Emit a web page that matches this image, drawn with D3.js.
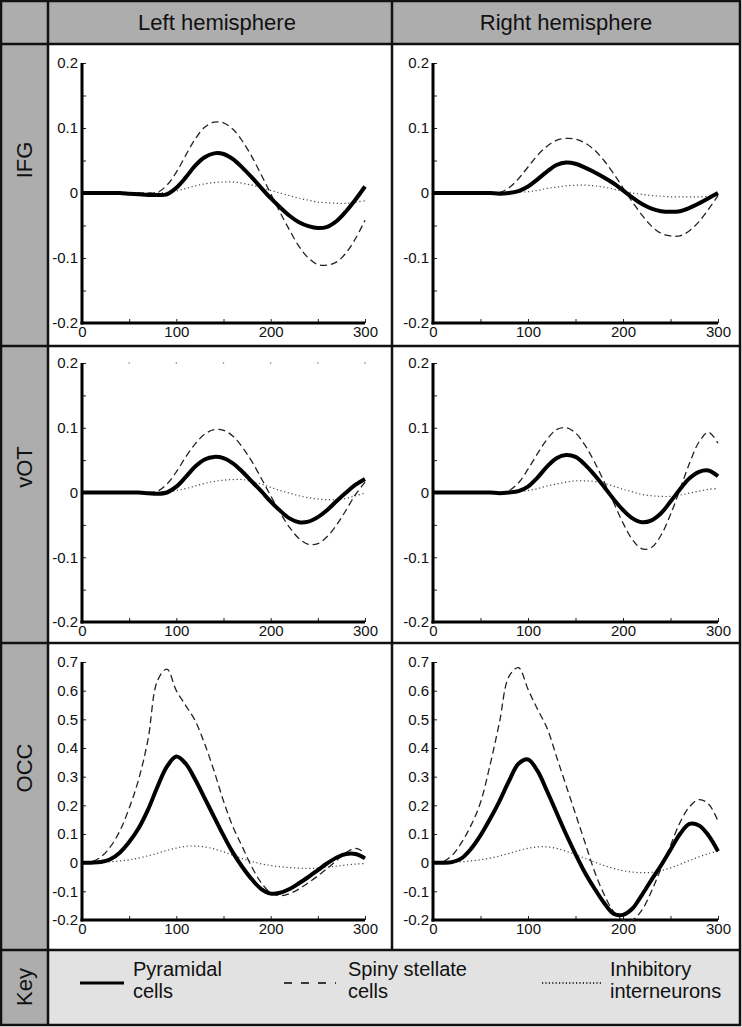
<!DOCTYPE html>
<html lang="en">
<head>
<meta charset="UTF-8">
<title>Neuronal populations</title>
<script src="https://d3js.org/d3.v7.min.js"></script>
<style>
  body { margin: 0; background: #fff; }
  text { font-family: "Liberation Sans", Arial, sans-serif; fill: #111; }
</style>
</head>
<body>
<svg id="chart" width="742" height="1027"></svg>
<script>
// time samples (ms)
const time = [0, 10, 20, 30, 40, 50, 60, 70, 80, 90, 100, 110, 120, 130, 140, 150,
  160, 170, 180, 190, 200, 210, 220, 230, 240, 250, 260, 270, 280, 290, 300];

// IFG, left hemisphere
const ifgLeftPyr = [0, 0, 0, 0, 0, -0.001, -0.002, -0.003, -0.003, -0.002, 0.008, 0.024, 0.042, 0.055, 0.061, 0.060,
  0.052, 0.039, 0.024, 0.008, -0.008, -0.022, -0.035, -0.045, -0.051, -0.054, -0.052, -0.043, -0.028, -0.010, 0.010];
const ifgLeftSpiny = [0, 0, 0, 0, 0, 0, 0, 0, 0.001, 0.012, 0.032, 0.058, 0.083, 0.101, 0.109, 0.108,
  0.098, 0.080, 0.056, 0.028, -0.001, -0.030, -0.057, -0.082, -0.100, -0.110, -0.111, -0.106, -0.092, -0.070, -0.042];
const ifgLeftInh = [0, 0, 0, 0, 0, 0, 0, 0, 0, 0.001, 0.003, 0.007, 0.011, 0.014, 0.016, 0.017,
  0.017, 0.015, 0.012, 0.008, 0.004, 0.000, -0.004, -0.008, -0.011, -0.014, -0.015, -0.016, -0.016, -0.014, -0.012];

// IFG, right hemisphere
const ifgRightPyr = [0, 0, 0, 0, 0, 0, 0, -0.001, 0, 0.003, 0.010, 0.021, 0.033, 0.043, 0.047, 0.045,
  0.039, 0.032, 0.024, 0.015, 0.004, -0.007, -0.017, -0.024, -0.028, -0.029, -0.028, -0.023, -0.016, -0.008, 0.000];
const ifgRightSpiny = [0, 0, 0, 0, 0, 0, 0, 0.001, 0.008, 0.022, 0.040, 0.058, 0.072, 0.081, 0.084, 0.083,
  0.077, 0.066, 0.050, 0.030, 0.008, -0.014, -0.034, -0.051, -0.062, -0.066, -0.066, -0.058, -0.044, -0.025, -0.004];
const ifgRightInh = [0, 0, 0, 0, 0, 0, 0, 0, 0, 0.001, 0.002, 0.004, 0.007, 0.009, 0.011, 0.012,
  0.012, 0.011, 0.009, 0.006, 0.003, 0.000, -0.002, -0.004, -0.005, -0.006, -0.006, -0.006, -0.006, -0.005, -0.004];

// vOT, left hemisphere
const votLeftPyr = [0, 0, 0, 0, 0, 0, 0, -0.001, -0.002, 0.000, 0.009, 0.024, 0.040, 0.051, 0.055, 0.053,
  0.045, 0.032, 0.017, 0.002, -0.014, -0.028, -0.040, -0.046, -0.045, -0.038, -0.027, -0.013, 0.000, 0.012, 0.021];
const votLeftSpiny = [0, 0, 0, 0, 0, 0, 0, 0, 0.002, 0.013, 0.032, 0.055, 0.075, 0.090, 0.097, 0.096,
  0.087, 0.070, 0.048, 0.022, -0.005, -0.031, -0.054, -0.071, -0.080, -0.079, -0.068, -0.050, -0.027, -0.003, 0.016];
const votLeftInh = [0, 0, 0, 0, 0, 0, 0, 0, 0, 0.001, 0.003, 0.006, 0.010, 0.014, 0.017, 0.019,
  0.020, 0.020, 0.017, 0.013, 0.008, 0.003, -0.001, -0.005, -0.008, -0.010, -0.011, -0.011, -0.009, -0.005, -0.001];

// vOT, right hemisphere
const votRightPyr = [0, 0, 0, 0, 0, 0, 0, -0.001, 0.000, 0.002, 0.009, 0.023, 0.040, 0.053, 0.058, 0.055,
  0.043, 0.027, 0.009, -0.010, -0.027, -0.040, -0.046, -0.043, -0.032, -0.014, 0.005, 0.022, 0.032, 0.034, 0.025];
const votRightSpiny = [0, 0, 0, 0, 0, 0, 0, 0, 0.003, 0.015, 0.036, 0.060, 0.082, 0.097, 0.100, 0.092,
  0.073, 0.047, 0.017, -0.015, -0.047, -0.073, -0.087, -0.085, -0.066, -0.034, 0.005, 0.045, 0.078, 0.093, 0.076];
const votRightInh = [0, 0, 0, 0, 0, 0, 0, 0, 0, 0.001, 0.003, 0.006, 0.010, 0.013, 0.016, 0.018,
  0.018, 0.017, 0.014, 0.010, 0.005, 0.001, -0.003, -0.005, -0.006, -0.006, -0.004, -0.001, 0.002, 0.005, 0.006];

// OCC, left hemisphere
const occLeftPyr = [0, 0, 0.002, 0.012, 0.035, 0.072, 0.120, 0.185, 0.265, 0.335, 0.370, 0.345, 0.290, 0.225, 0.160, 0.095,
  0.035, -0.015, -0.058, -0.092, -0.108, -0.105, -0.092, -0.072, -0.050, -0.026, -0.002, 0.018, 0.030, 0.030, 0.015];
const occLeftSpiny = [0, 0.003, 0.020, 0.055, 0.110, 0.190, 0.290, 0.430, 0.635, 0.675, 0.600, 0.548, 0.495, 0.415, 0.320, 0.215,
  0.125, 0.055, -0.015, -0.070, -0.105, -0.115, -0.108, -0.092, -0.070, -0.046, -0.020, 0.008, 0.035, 0.050, 0.035];
const occLeftInh = [0, 0, 0.001, 0.003, 0.006, 0.010, 0.016, 0.024, 0.033, 0.043, 0.051, 0.057, 0.058, 0.055, 0.048, 0.038,
  0.026, 0.014, 0.004, -0.004, -0.010, -0.014, -0.017, -0.019, -0.020, -0.019, -0.016, -0.012, -0.008, -0.005, -0.003];

// OCC, right hemisphere
const occRightPyr = [0, 0, 0.002, 0.015, 0.048, 0.095, 0.152, 0.215, 0.285, 0.345, 0.360, 0.320, 0.250, 0.175, 0.100, 0.030,
  -0.035, -0.090, -0.140, -0.178, -0.182, -0.160, -0.112, -0.060, -0.010, 0.045, 0.100, 0.135, 0.130, 0.095, 0.040];
const occRightSpiny = [0, 0.003, 0.025, 0.070, 0.130, 0.210, 0.340, 0.490, 0.650, 0.680, 0.605, 0.535, 0.470, 0.370, 0.270, 0.170,
  0.070, -0.030, -0.110, -0.170, -0.200, -0.200, -0.165, -0.100, -0.020, 0.060, 0.140, 0.195, 0.220, 0.205, 0.145];
const occRightInh = [0, 0, 0.001, 0.003, 0.006, 0.010, 0.016, 0.023, 0.032, 0.042, 0.050, 0.055, 0.055, 0.050, 0.040, 0.028,
  0.015, 0.002, -0.010, -0.020, -0.028, -0.033, -0.035, -0.034, -0.028, -0.018, -0.006, 0.008, 0.020, 0.032, 0.040];

// labels and ticks
const columns = ["Left hemisphere", "Right hemisphere"];
const rows = ["IFG", "vOT", "OCC"];
const keyLabels = [["Pyramidal", "cells"], ["Spiny stellate", "cells"], ["Inhibitory", "interneurons"]];
const xTicks = [0, 50, 100, 150, 200, 250, 300];
const xLabels = [0, 100, 200, 300];
const smallYTicks = [-0.2, -0.15, -0.1, -0.05, 0, 0.05, 0.1, 0.15, 0.2];
const smallYLabels = [-0.2, -0.1, 0, 0.1, 0.2];
const occYTicks = [-0.2, -0.1, 0, 0.1, 0.2, 0.3, 0.4, 0.5, 0.6, 0.7];

const svg = d3.select("#chart");

// table layout
const colX = [0, 48, 392, 740];
const rowY = [1, 44, 346, 643, 950, 1025];

svg.append("rect").attr("x", 0).attr("y", 0).attr("width", 742).attr("height", 1027).attr("fill", "#fff");
svg.append("rect").attr("x", 0).attr("y", 0).attr("width", 48).attr("height", 1025).attr("fill", "#adadad");
svg.append("rect").attr("x", 0).attr("y", 0).attr("width", 740).attr("height", 44).attr("fill", "#adadad");
svg.append("rect").attr("x", 48).attr("y", 950).attr("width", 692).attr("height", 75).attr("fill", "#e2e2e2");

const grid = svg.append("g").attr("stroke", "#111").attr("stroke-width", 2.5);
grid.append("line").attr("x1", 1).attr("x2", 1).attr("y1", 0).attr("y2", 1026);
grid.append("line").attr("x1", 48).attr("x2", 48).attr("y1", 0).attr("y2", 1026);
grid.append("line").attr("x1", 392).attr("x2", 392).attr("y1", 0).attr("y2", 950);
grid.append("line").attr("x1", 740).attr("x2", 740).attr("y1", 0).attr("y2", 1026);
rowY.forEach(y => grid.append("line").attr("x1", 0).attr("x2", 741).attr("y1", y).attr("y2", y));

// headers
columns.forEach((c, i) => {
  svg.append("text")
    .attr("x", (colX[i + 1] + colX[i + 2]) / 2 - (i === 0 ? 3 : 0))
    .attr("y", 30)
    .attr("text-anchor", "middle")
    .attr("font-size", 22)
    .text(c);
});

const rowLabelY = [160, 467, 768, 987];
rows.concat(["Key"]).forEach((r, i) => {
  svg.append("text")
    .attr("transform", `translate(32,${rowLabelY[i]}) rotate(-90)`)
    .attr("text-anchor", "middle")
    .attr("font-size", 22)
    .text(r);
});

// panels
const panels = [
  { row: 0, col: 0, series: [ifgLeftPyr, ifgLeftSpiny, ifgLeftInh] },
  { row: 0, col: 1, series: [ifgRightPyr, ifgRightSpiny, ifgRightInh] },
  { row: 1, col: 0, series: [votLeftPyr, votLeftSpiny, votLeftInh], topDots: true },
  { row: 1, col: 1, series: [votRightPyr, votRightSpiny, votRightInh] },
  { row: 2, col: 0, series: [occLeftPyr, occLeftSpiny, occLeftInh] },
  { row: 2, col: 1, series: [occRightPyr, occRightSpiny, occRightInh] }
];

const plotX = [[82, 365], [433, 718]];
const plotY = [[63, 323], [363, 622], [662, 920]];

const styles = [
  { width: 4, dash: null, color: "#000" },
  { width: 1.3, dash: "7,4", color: "#222" },
  { width: 1.2, dash: "1.2,2.6", color: "#444" }
];

panels.forEach(p => {
  const occ = p.row === 2;
  const x = d3.scaleLinear().domain([0, 300]).range(plotX[p.col]);
  const y = d3.scaleLinear().domain(occ ? [-0.2, 0.7] : [-0.2, 0.2]).range([plotY[p.row][1], plotY[p.row][0]]);
  const g = svg.append("g");

  if (p.topDots) {
    g.selectAll(".dot").data(xTicks.slice(1)).enter().append("circle")
      .attr("cx", d => x(d)).attr("cy", y(0.2)).attr("r", 0.8).attr("fill", "#777");
  }

  // y minor ticks pointing inward
  g.append("g")
    .attr("transform", `translate(${x(0)},0)`)
    .call(d3.axisLeft(y).tickValues(occ ? occYTicks : smallYTicks).tickSize(-4).tickFormat(""))
    .call(a => a.select(".domain").remove())
    .call(a => a.selectAll("line").attr("stroke", "#222"));
  g.append("g")
    .attr("transform", `translate(${x(0)},0)`)
    .call(d3.axisLeft(y).tickValues(occ ? occYTicks : smallYLabels).tickSize(0).tickPadding(4).tickFormat(d => String(d)))
    .call(a => a.select(".domain").remove())
    .call(a => a.selectAll("text").attr("font-size", 15).attr("font-family", "Liberation Sans, Arial, sans-serif").attr("fill", "#111"));

  // x ticks
  g.append("g")
    .attr("transform", `translate(0,${y(-0.2)})`)
    .call(d3.axisBottom(x).tickValues(xTicks).tickSize(-4).tickFormat(""))
    .call(a => a.select(".domain").remove())
    .call(a => a.selectAll("line").attr("stroke", "#222"));
  g.append("g")
    .attr("transform", `translate(0,${y(-0.2)})`)
    .call(d3.axisBottom(x).tickValues(xLabels).tickSize(0).tickPadding(3).tickFormat(d => String(d)))
    .call(a => a.select(".domain").remove())
    .call(a => a.selectAll("text").attr("font-size", 15).attr("font-family", "Liberation Sans, Arial, sans-serif").attr("fill", "#111"));

  // thick axis lines
  g.append("line").attr("x1", x(0)).attr("x2", x(0)).attr("y1", y.range()[1]).attr("y2", y(-0.2) + 1.5)
    .attr("stroke", "#000").attr("stroke-width", 3);
  g.append("line").attr("x1", x(0) - 1.5).attr("x2", x(300)).attr("y1", y(-0.2)).attr("y2", y(-0.2))
    .attr("stroke", "#000").attr("stroke-width", 3);

  const line = d3.line()
    .x((d, i) => x(time[i]))
    .y(d => y(d))
    .curve(d3.curveCatmullRom.alpha(0.5));

  // draw inhibitory, spiny, pyramidal (pyramidal on top)
  [2, 1, 0].forEach(k => {
    g.append("path")
      .datum(p.series[k])
      .attr("d", line)
      .attr("fill", "none")
      .attr("stroke", styles[k].color)
      .attr("stroke-width", styles[k].width)
      .attr("stroke-dasharray", styles[k].dash)
      .attr("stroke-linejoin", "round");
  });
});

// key
const keyX = [[80, 124], [284, 336], [542, 603]];
const keyTextX = [133, 348, 610];
keyLabels.forEach((lab, i) => {
  svg.append("line")
    .attr("x1", keyX[i][0]).attr("x2", keyX[i][1])
    .attr("y1", 983).attr("y2", 983)
    .attr("stroke", "#000")
    .attr("stroke-width", i === 0 ? 3 : 1.3)
    .attr("stroke-dasharray", i === 1 ? "8,9" : i === 2 ? "1.2,2.2" : null);
  const t = svg.append("text").attr("x", keyTextX[i]).attr("y", 976).attr("font-size", 20);
  t.append("tspan").attr("x", keyTextX[i]).text(lab[0]);
  t.append("tspan").attr("x", keyTextX[i]).attr("dy", 22).text(lab[1]);
});
</script>
</body>
</html>
